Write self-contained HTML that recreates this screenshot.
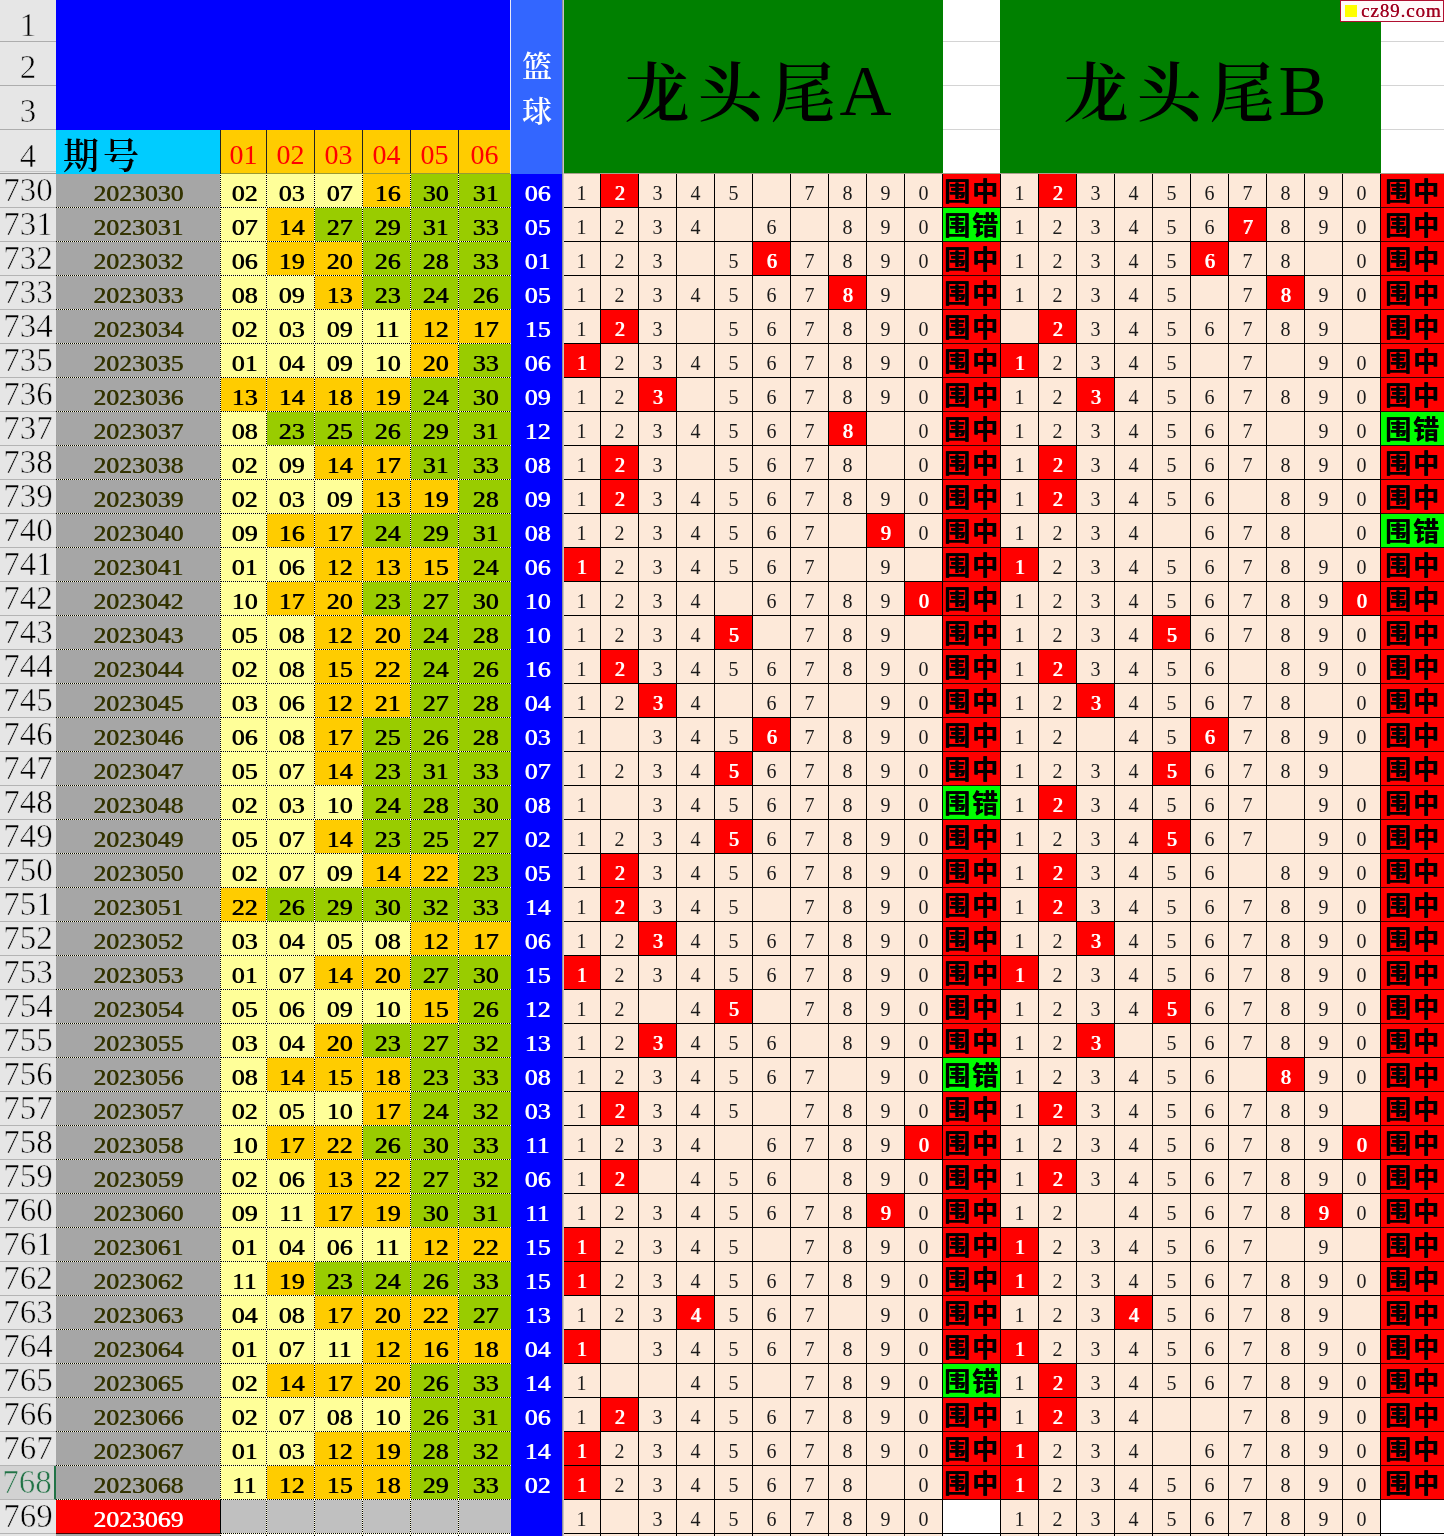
<!DOCTYPE html><html lang="zh"><head><meta charset="utf-8"><title>龙头尾</title><style>html,body{margin:0;padding:0}
html{overflow:hidden;width:1444px;height:1536px}
body{width:1444px;height:1536px;overflow:hidden;background:#fff;position:relative;font-family:"Liberation Serif","Noto Serif CJK SC",serif}
.r{position:absolute;left:0;width:1444px;height:34px;display:flex}
.r>div{box-sizing:border-box;height:34px;flex:none;text-align:center;line-height:34px;overflow:hidden;white-space:nowrap}
.h{width:56px;background:#e6e6e6;border-bottom:1px solid #b4b4b4;font-size:33px;color:#000;line-height:33px !important;-webkit-text-stroke:0.6px #e6e6e6}
.sel{background:#d2d2d2;color:#217346;border-right:2px solid #217346;-webkit-text-stroke:0.6px #d2d2d2}
.p,.n{background-image:repeating-linear-gradient(90deg,#000 0 1px,#ffd 1px 2px),repeating-linear-gradient(0deg,#000 0 1px,#ffd 1px 2px);background-size:100% 1px,1px 100%;background-position:0 100%,100% 0;background-repeat:no-repeat}
.p{width:165px;background-color:#a6a6a6;color:#333300}
.p b,.n b,.bl b{display:inline-block;font-size:23px;font-weight:normal;text-shadow:0.6px 0 0 currentColor;transform:scaleX(1.12);position:relative;top:3px}
.pl{background:#f00;color:#fff;border-right:1px solid #000;border-bottom:1px solid #400}
.n{width:48px;color:#000}
.n0{width:46px}
.n5{width:52px;background-size:100% 1px,0 0}
.y{background-color:#ffff99}
.o{background-color:#ffcc00}
.v{background-color:#99cc00}
.g{background-color:#c0c0c0}
.bl{width:52px;background:#0000ff;color:#fff}
.d{width:38px;background:#fde9d9;border-right:1px solid #000;border-bottom:1px solid #000;font-size:20px;color:#1a1a1a;line-height:38px !important}
.x{background:#f00;color:#fff;text-shadow:0.9px 0 0 #fff}
.w{font-family:"Liberation Sans","Noto Sans CJK SC",sans-serif;font-weight:bold;font-size:26px;color:#000;background:#f00;border-bottom:1px solid #300;line-height:37px !important;letter-spacing:2px;text-indent:1px;text-shadow:0.4px 0 0 #000}
.wa{width:58px;border-right:1px solid #000}
.wb{width:63px}
.wc{background:#00ff00;border-bottom:1px solid #020}
.we{background:#fff;border-bottom:1px solid #000}
.nw{background-color:#fff}
.abs{position:absolute;box-sizing:border-box}
.hh{left:0;width:56px;background:#e6e6e6;border-bottom:1px solid #adadad;font-size:33px;text-align:center;-webkit-text-stroke:0.6px #e6e6e6}
.gl{height:1px;background:#d4d4d4}
.hn{top:130px;height:44px;background:#ffcc00;border-right:1px solid #222;border-bottom:1px solid #993;color:#f00;font-size:28px;text-align:center;line-height:50px}
.tt{top:0;height:173px;background:#008000;color:#000;font-size:72px;text-align:center;line-height:182px;white-space:nowrap;padding-left:9px;overflow:hidden}
.tt span{font-size:65px;font-weight:600;letter-spacing:8px;position:relative;top:1px;margin-right:-4px}
</style></head><body><div class="abs hh" style="top:0;height:42px;line-height:50px">1</div>
<div class="abs hh" style="top:42px;height:44px;line-height:50px">2</div>
<div class="abs hh" style="top:86px;height:44px;line-height:50px">3</div>
<div class="abs hh" style="top:130px;height:44px;line-height:52px;border-bottom:1px solid #999">4</div>
<div class="abs" style="left:0;top:171px;width:56px;height:1px;background:#c6c6c6"></div>
<div class="abs" style="left:56px;top:0;width:454px;height:130px;background:#0000ff"></div>
<div class="abs" style="left:510px;top:0;width:1px;height:174px;background:#e8e8f8"></div>
<div class="abs" style="left:511px;top:0;width:52px;height:174px;background:#3366ff;color:#fff;font-size:30px;font-weight:600;text-align:center;line-height:45px;padding-top:44px">篮<br>球</div>
<div class="abs" style="left:562px;top:0;width:2px;height:1536px;background:linear-gradient(90deg,#8f8f9f 50%,#c9c4c0 50%);z-index:5"></div>
<div class="abs tt" style="left:564px;width:379px"><span>龙头尾</span>A</div>
<div class="abs tt" style="left:1000px;width:381px"><span>龙头尾</span>B</div>
<div class="abs gl" style="left:943px;width:57px;top:41px"></div>
<div class="abs gl" style="left:943px;width:57px;top:85px"></div>
<div class="abs gl" style="left:943px;width:57px;top:129px"></div>
<div class="abs gl" style="left:1381px;width:63px;top:41px"></div>
<div class="abs gl" style="left:1381px;width:63px;top:85px"></div>
<div class="abs gl" style="left:1381px;width:63px;top:129px"></div>
<div class="abs" style="left:563px;width:881px;top:173px;height:1px;background:#a9a08c"></div>
<div class="abs" style="left:56px;top:130px;width:164px;height:44px;background:#00ccff;font-size:36px;font-weight:600;letter-spacing:4px;line-height:54px;padding-left:7px;overflow:hidden;color:#000;white-space:nowrap">期号</div>
<div class="abs" style="left:220px;top:130px;width:1px;height:44px;background:#222"></div>
<div class="abs hn" style="left:221px;width:46px">01</div>
<div class="abs hn" style="left:267px;width:48px">02</div>
<div class="abs hn" style="left:315px;width:48px">03</div>
<div class="abs hn" style="left:363px;width:48px">04</div>
<div class="abs hn" style="left:411px;width:48px">05</div>
<div class="abs hn" style="left:459px;width:51px;border-right:0">06</div>
<div class="abs" style="left:1340px;top:0;width:104px;height:22px;background:#fffafa;border:1px solid #b01030;color:#a00020;text-shadow:0.3px 0 0 #a00020;font-size:19px;line-height:19px;letter-spacing:0.9px;padding-left:20px;white-space:nowrap">cz89.com<i style="position:absolute;left:4px;top:4px;width:12px;height:12px;background:#ff0"></i></div>
<div class="r" style="top:174px"><div class="h">730</div><div class="p"><b>2023030</b></div><div class="n n0 y"><b>02</b></div><div class="n n1 y"><b>03</b></div><div class="n n2 y"><b>07</b></div><div class="n n3 o"><b>16</b></div><div class="n n4 v"><b>30</b></div><div class="n n5 v"><b>31</b></div><div class="bl"><b>06</b></div><div class="d d1">1</div><div class="d x">2</div><div class="d">3</div><div class="d">4</div><div class="d">5</div><div class="d"></div><div class="d">7</div><div class="d">8</div><div class="d">9</div><div class="d">0</div><div class="w wa">围中</div><div class="d d1">1</div><div class="d x">2</div><div class="d">3</div><div class="d">4</div><div class="d">5</div><div class="d">6</div><div class="d">7</div><div class="d">8</div><div class="d">9</div><div class="d">0</div><div class="w wb">围中</div></div><div class="r" style="top:208px"><div class="h">731</div><div class="p"><b>2023031</b></div><div class="n n0 y"><b>07</b></div><div class="n n1 o"><b>14</b></div><div class="n n2 v"><b>27</b></div><div class="n n3 v"><b>29</b></div><div class="n n4 v"><b>31</b></div><div class="n n5 v"><b>33</b></div><div class="bl"><b>05</b></div><div class="d d1">1</div><div class="d">2</div><div class="d">3</div><div class="d">4</div><div class="d"></div><div class="d">6</div><div class="d"></div><div class="d">8</div><div class="d">9</div><div class="d">0</div><div class="w wa wc">围错</div><div class="d d1">1</div><div class="d">2</div><div class="d">3</div><div class="d">4</div><div class="d">5</div><div class="d">6</div><div class="d x">7</div><div class="d">8</div><div class="d">9</div><div class="d">0</div><div class="w wb">围中</div></div><div class="r" style="top:242px"><div class="h">732</div><div class="p"><b>2023032</b></div><div class="n n0 y"><b>06</b></div><div class="n n1 o"><b>19</b></div><div class="n n2 o"><b>20</b></div><div class="n n3 v"><b>26</b></div><div class="n n4 v"><b>28</b></div><div class="n n5 v"><b>33</b></div><div class="bl"><b>01</b></div><div class="d d1">1</div><div class="d">2</div><div class="d">3</div><div class="d"></div><div class="d">5</div><div class="d x">6</div><div class="d">7</div><div class="d">8</div><div class="d">9</div><div class="d">0</div><div class="w wa">围中</div><div class="d d1">1</div><div class="d">2</div><div class="d">3</div><div class="d">4</div><div class="d">5</div><div class="d x">6</div><div class="d">7</div><div class="d">8</div><div class="d"></div><div class="d">0</div><div class="w wb">围中</div></div><div class="r" style="top:276px"><div class="h">733</div><div class="p"><b>2023033</b></div><div class="n n0 y"><b>08</b></div><div class="n n1 y"><b>09</b></div><div class="n n2 o"><b>13</b></div><div class="n n3 v"><b>23</b></div><div class="n n4 v"><b>24</b></div><div class="n n5 v"><b>26</b></div><div class="bl"><b>05</b></div><div class="d d1">1</div><div class="d">2</div><div class="d">3</div><div class="d">4</div><div class="d">5</div><div class="d">6</div><div class="d">7</div><div class="d x">8</div><div class="d">9</div><div class="d"></div><div class="w wa">围中</div><div class="d d1">1</div><div class="d">2</div><div class="d">3</div><div class="d">4</div><div class="d">5</div><div class="d"></div><div class="d">7</div><div class="d x">8</div><div class="d">9</div><div class="d">0</div><div class="w wb">围中</div></div><div class="r" style="top:310px"><div class="h">734</div><div class="p"><b>2023034</b></div><div class="n n0 y"><b>02</b></div><div class="n n1 y"><b>03</b></div><div class="n n2 y"><b>09</b></div><div class="n n3 y"><b>11</b></div><div class="n n4 o"><b>12</b></div><div class="n n5 o"><b>17</b></div><div class="bl"><b>15</b></div><div class="d d1">1</div><div class="d x">2</div><div class="d">3</div><div class="d"></div><div class="d">5</div><div class="d">6</div><div class="d">7</div><div class="d">8</div><div class="d">9</div><div class="d">0</div><div class="w wa">围中</div><div class="d d1"></div><div class="d x">2</div><div class="d">3</div><div class="d">4</div><div class="d">5</div><div class="d">6</div><div class="d">7</div><div class="d">8</div><div class="d">9</div><div class="d"></div><div class="w wb">围中</div></div><div class="r" style="top:344px"><div class="h">735</div><div class="p"><b>2023035</b></div><div class="n n0 y"><b>01</b></div><div class="n n1 y"><b>04</b></div><div class="n n2 y"><b>09</b></div><div class="n n3 y"><b>10</b></div><div class="n n4 o"><b>20</b></div><div class="n n5 v"><b>33</b></div><div class="bl"><b>06</b></div><div class="d d1 x">1</div><div class="d">2</div><div class="d">3</div><div class="d">4</div><div class="d">5</div><div class="d">6</div><div class="d">7</div><div class="d">8</div><div class="d">9</div><div class="d">0</div><div class="w wa">围中</div><div class="d d1 x">1</div><div class="d">2</div><div class="d">3</div><div class="d">4</div><div class="d">5</div><div class="d"></div><div class="d">7</div><div class="d"></div><div class="d">9</div><div class="d">0</div><div class="w wb">围中</div></div><div class="r" style="top:378px"><div class="h">736</div><div class="p"><b>2023036</b></div><div class="n n0 o"><b>13</b></div><div class="n n1 o"><b>14</b></div><div class="n n2 o"><b>18</b></div><div class="n n3 o"><b>19</b></div><div class="n n4 v"><b>24</b></div><div class="n n5 v"><b>30</b></div><div class="bl"><b>09</b></div><div class="d d1">1</div><div class="d">2</div><div class="d x">3</div><div class="d"></div><div class="d">5</div><div class="d">6</div><div class="d">7</div><div class="d">8</div><div class="d">9</div><div class="d">0</div><div class="w wa">围中</div><div class="d d1">1</div><div class="d">2</div><div class="d x">3</div><div class="d">4</div><div class="d">5</div><div class="d">6</div><div class="d">7</div><div class="d">8</div><div class="d">9</div><div class="d">0</div><div class="w wb">围中</div></div><div class="r" style="top:412px"><div class="h">737</div><div class="p"><b>2023037</b></div><div class="n n0 y"><b>08</b></div><div class="n n1 v"><b>23</b></div><div class="n n2 v"><b>25</b></div><div class="n n3 v"><b>26</b></div><div class="n n4 v"><b>29</b></div><div class="n n5 v"><b>31</b></div><div class="bl"><b>12</b></div><div class="d d1">1</div><div class="d">2</div><div class="d">3</div><div class="d">4</div><div class="d">5</div><div class="d">6</div><div class="d">7</div><div class="d x">8</div><div class="d"></div><div class="d">0</div><div class="w wa">围中</div><div class="d d1">1</div><div class="d">2</div><div class="d">3</div><div class="d">4</div><div class="d">5</div><div class="d">6</div><div class="d">7</div><div class="d"></div><div class="d">9</div><div class="d">0</div><div class="w wb wc">围错</div></div><div class="r" style="top:446px"><div class="h">738</div><div class="p"><b>2023038</b></div><div class="n n0 y"><b>02</b></div><div class="n n1 y"><b>09</b></div><div class="n n2 o"><b>14</b></div><div class="n n3 o"><b>17</b></div><div class="n n4 v"><b>31</b></div><div class="n n5 v"><b>33</b></div><div class="bl"><b>08</b></div><div class="d d1">1</div><div class="d x">2</div><div class="d">3</div><div class="d"></div><div class="d">5</div><div class="d">6</div><div class="d">7</div><div class="d">8</div><div class="d"></div><div class="d">0</div><div class="w wa">围中</div><div class="d d1">1</div><div class="d x">2</div><div class="d">3</div><div class="d">4</div><div class="d">5</div><div class="d">6</div><div class="d">7</div><div class="d">8</div><div class="d">9</div><div class="d">0</div><div class="w wb">围中</div></div><div class="r" style="top:480px"><div class="h">739</div><div class="p"><b>2023039</b></div><div class="n n0 y"><b>02</b></div><div class="n n1 y"><b>03</b></div><div class="n n2 y"><b>09</b></div><div class="n n3 o"><b>13</b></div><div class="n n4 o"><b>19</b></div><div class="n n5 v"><b>28</b></div><div class="bl"><b>09</b></div><div class="d d1">1</div><div class="d x">2</div><div class="d">3</div><div class="d">4</div><div class="d">5</div><div class="d">6</div><div class="d">7</div><div class="d">8</div><div class="d">9</div><div class="d">0</div><div class="w wa">围中</div><div class="d d1">1</div><div class="d x">2</div><div class="d">3</div><div class="d">4</div><div class="d">5</div><div class="d">6</div><div class="d"></div><div class="d">8</div><div class="d">9</div><div class="d">0</div><div class="w wb">围中</div></div><div class="r" style="top:514px"><div class="h">740</div><div class="p"><b>2023040</b></div><div class="n n0 y"><b>09</b></div><div class="n n1 o"><b>16</b></div><div class="n n2 o"><b>17</b></div><div class="n n3 v"><b>24</b></div><div class="n n4 v"><b>29</b></div><div class="n n5 v"><b>31</b></div><div class="bl"><b>08</b></div><div class="d d1">1</div><div class="d">2</div><div class="d">3</div><div class="d">4</div><div class="d">5</div><div class="d">6</div><div class="d">7</div><div class="d"></div><div class="d x">9</div><div class="d">0</div><div class="w wa">围中</div><div class="d d1">1</div><div class="d">2</div><div class="d">3</div><div class="d">4</div><div class="d"></div><div class="d">6</div><div class="d">7</div><div class="d">8</div><div class="d"></div><div class="d">0</div><div class="w wb wc">围错</div></div><div class="r" style="top:548px"><div class="h">741</div><div class="p"><b>2023041</b></div><div class="n n0 y"><b>01</b></div><div class="n n1 y"><b>06</b></div><div class="n n2 o"><b>12</b></div><div class="n n3 o"><b>13</b></div><div class="n n4 o"><b>15</b></div><div class="n n5 v"><b>24</b></div><div class="bl"><b>06</b></div><div class="d d1 x">1</div><div class="d">2</div><div class="d">3</div><div class="d">4</div><div class="d">5</div><div class="d">6</div><div class="d">7</div><div class="d"></div><div class="d">9</div><div class="d"></div><div class="w wa">围中</div><div class="d d1 x">1</div><div class="d">2</div><div class="d">3</div><div class="d">4</div><div class="d">5</div><div class="d">6</div><div class="d">7</div><div class="d">8</div><div class="d">9</div><div class="d">0</div><div class="w wb">围中</div></div><div class="r" style="top:582px"><div class="h">742</div><div class="p"><b>2023042</b></div><div class="n n0 y"><b>10</b></div><div class="n n1 o"><b>17</b></div><div class="n n2 o"><b>20</b></div><div class="n n3 v"><b>23</b></div><div class="n n4 v"><b>27</b></div><div class="n n5 v"><b>30</b></div><div class="bl"><b>10</b></div><div class="d d1">1</div><div class="d">2</div><div class="d">3</div><div class="d">4</div><div class="d"></div><div class="d">6</div><div class="d">7</div><div class="d">8</div><div class="d">9</div><div class="d x">0</div><div class="w wa">围中</div><div class="d d1">1</div><div class="d">2</div><div class="d">3</div><div class="d">4</div><div class="d">5</div><div class="d">6</div><div class="d">7</div><div class="d">8</div><div class="d">9</div><div class="d x">0</div><div class="w wb">围中</div></div><div class="r" style="top:616px"><div class="h">743</div><div class="p"><b>2023043</b></div><div class="n n0 y"><b>05</b></div><div class="n n1 y"><b>08</b></div><div class="n n2 o"><b>12</b></div><div class="n n3 o"><b>20</b></div><div class="n n4 v"><b>24</b></div><div class="n n5 v"><b>28</b></div><div class="bl"><b>10</b></div><div class="d d1">1</div><div class="d">2</div><div class="d">3</div><div class="d">4</div><div class="d x">5</div><div class="d"></div><div class="d">7</div><div class="d">8</div><div class="d">9</div><div class="d"></div><div class="w wa">围中</div><div class="d d1">1</div><div class="d">2</div><div class="d">3</div><div class="d">4</div><div class="d x">5</div><div class="d">6</div><div class="d">7</div><div class="d">8</div><div class="d">9</div><div class="d">0</div><div class="w wb">围中</div></div><div class="r" style="top:650px"><div class="h">744</div><div class="p"><b>2023044</b></div><div class="n n0 y"><b>02</b></div><div class="n n1 y"><b>08</b></div><div class="n n2 o"><b>15</b></div><div class="n n3 o"><b>22</b></div><div class="n n4 v"><b>24</b></div><div class="n n5 v"><b>26</b></div><div class="bl"><b>16</b></div><div class="d d1">1</div><div class="d x">2</div><div class="d">3</div><div class="d">4</div><div class="d">5</div><div class="d">6</div><div class="d">7</div><div class="d">8</div><div class="d">9</div><div class="d">0</div><div class="w wa">围中</div><div class="d d1">1</div><div class="d x">2</div><div class="d">3</div><div class="d">4</div><div class="d">5</div><div class="d">6</div><div class="d"></div><div class="d">8</div><div class="d">9</div><div class="d">0</div><div class="w wb">围中</div></div><div class="r" style="top:684px"><div class="h">745</div><div class="p"><b>2023045</b></div><div class="n n0 y"><b>03</b></div><div class="n n1 y"><b>06</b></div><div class="n n2 o"><b>12</b></div><div class="n n3 o"><b>21</b></div><div class="n n4 v"><b>27</b></div><div class="n n5 v"><b>28</b></div><div class="bl"><b>04</b></div><div class="d d1">1</div><div class="d">2</div><div class="d x">3</div><div class="d">4</div><div class="d"></div><div class="d">6</div><div class="d">7</div><div class="d"></div><div class="d">9</div><div class="d">0</div><div class="w wa">围中</div><div class="d d1">1</div><div class="d">2</div><div class="d x">3</div><div class="d">4</div><div class="d">5</div><div class="d">6</div><div class="d">7</div><div class="d">8</div><div class="d"></div><div class="d">0</div><div class="w wb">围中</div></div><div class="r" style="top:718px"><div class="h">746</div><div class="p"><b>2023046</b></div><div class="n n0 y"><b>06</b></div><div class="n n1 y"><b>08</b></div><div class="n n2 o"><b>17</b></div><div class="n n3 v"><b>25</b></div><div class="n n4 v"><b>26</b></div><div class="n n5 v"><b>28</b></div><div class="bl"><b>03</b></div><div class="d d1">1</div><div class="d"></div><div class="d">3</div><div class="d">4</div><div class="d">5</div><div class="d x">6</div><div class="d">7</div><div class="d">8</div><div class="d">9</div><div class="d">0</div><div class="w wa">围中</div><div class="d d1">1</div><div class="d">2</div><div class="d"></div><div class="d">4</div><div class="d">5</div><div class="d x">6</div><div class="d">7</div><div class="d">8</div><div class="d">9</div><div class="d">0</div><div class="w wb">围中</div></div><div class="r" style="top:752px"><div class="h">747</div><div class="p"><b>2023047</b></div><div class="n n0 y"><b>05</b></div><div class="n n1 y"><b>07</b></div><div class="n n2 o"><b>14</b></div><div class="n n3 v"><b>23</b></div><div class="n n4 v"><b>31</b></div><div class="n n5 v"><b>33</b></div><div class="bl"><b>07</b></div><div class="d d1">1</div><div class="d">2</div><div class="d">3</div><div class="d">4</div><div class="d x">5</div><div class="d">6</div><div class="d">7</div><div class="d">8</div><div class="d">9</div><div class="d">0</div><div class="w wa">围中</div><div class="d d1">1</div><div class="d">2</div><div class="d">3</div><div class="d">4</div><div class="d x">5</div><div class="d">6</div><div class="d">7</div><div class="d">8</div><div class="d">9</div><div class="d"></div><div class="w wb">围中</div></div><div class="r" style="top:786px"><div class="h">748</div><div class="p"><b>2023048</b></div><div class="n n0 y"><b>02</b></div><div class="n n1 y"><b>03</b></div><div class="n n2 y"><b>10</b></div><div class="n n3 v"><b>24</b></div><div class="n n4 v"><b>28</b></div><div class="n n5 v"><b>30</b></div><div class="bl"><b>08</b></div><div class="d d1">1</div><div class="d"></div><div class="d">3</div><div class="d">4</div><div class="d">5</div><div class="d">6</div><div class="d">7</div><div class="d">8</div><div class="d">9</div><div class="d">0</div><div class="w wa wc">围错</div><div class="d d1">1</div><div class="d x">2</div><div class="d">3</div><div class="d">4</div><div class="d">5</div><div class="d">6</div><div class="d">7</div><div class="d"></div><div class="d">9</div><div class="d">0</div><div class="w wb">围中</div></div><div class="r" style="top:820px"><div class="h">749</div><div class="p"><b>2023049</b></div><div class="n n0 y"><b>05</b></div><div class="n n1 y"><b>07</b></div><div class="n n2 o"><b>14</b></div><div class="n n3 v"><b>23</b></div><div class="n n4 v"><b>25</b></div><div class="n n5 v"><b>27</b></div><div class="bl"><b>02</b></div><div class="d d1">1</div><div class="d">2</div><div class="d">3</div><div class="d">4</div><div class="d x">5</div><div class="d">6</div><div class="d">7</div><div class="d">8</div><div class="d">9</div><div class="d">0</div><div class="w wa">围中</div><div class="d d1">1</div><div class="d">2</div><div class="d">3</div><div class="d">4</div><div class="d x">5</div><div class="d">6</div><div class="d">7</div><div class="d"></div><div class="d">9</div><div class="d">0</div><div class="w wb">围中</div></div><div class="r" style="top:854px"><div class="h">750</div><div class="p"><b>2023050</b></div><div class="n n0 y"><b>02</b></div><div class="n n1 y"><b>07</b></div><div class="n n2 y"><b>09</b></div><div class="n n3 o"><b>14</b></div><div class="n n4 o"><b>22</b></div><div class="n n5 v"><b>23</b></div><div class="bl"><b>05</b></div><div class="d d1">1</div><div class="d x">2</div><div class="d">3</div><div class="d">4</div><div class="d">5</div><div class="d">6</div><div class="d">7</div><div class="d">8</div><div class="d">9</div><div class="d">0</div><div class="w wa">围中</div><div class="d d1">1</div><div class="d x">2</div><div class="d">3</div><div class="d">4</div><div class="d">5</div><div class="d">6</div><div class="d"></div><div class="d">8</div><div class="d">9</div><div class="d">0</div><div class="w wb">围中</div></div><div class="r" style="top:888px"><div class="h">751</div><div class="p"><b>2023051</b></div><div class="n n0 o"><b>22</b></div><div class="n n1 v"><b>26</b></div><div class="n n2 v"><b>29</b></div><div class="n n3 v"><b>30</b></div><div class="n n4 v"><b>32</b></div><div class="n n5 v"><b>33</b></div><div class="bl"><b>14</b></div><div class="d d1">1</div><div class="d x">2</div><div class="d">3</div><div class="d">4</div><div class="d">5</div><div class="d"></div><div class="d">7</div><div class="d">8</div><div class="d">9</div><div class="d">0</div><div class="w wa">围中</div><div class="d d1">1</div><div class="d x">2</div><div class="d">3</div><div class="d">4</div><div class="d">5</div><div class="d">6</div><div class="d">7</div><div class="d">8</div><div class="d">9</div><div class="d">0</div><div class="w wb">围中</div></div><div class="r" style="top:922px"><div class="h">752</div><div class="p"><b>2023052</b></div><div class="n n0 y"><b>03</b></div><div class="n n1 y"><b>04</b></div><div class="n n2 y"><b>05</b></div><div class="n n3 y"><b>08</b></div><div class="n n4 o"><b>12</b></div><div class="n n5 o"><b>17</b></div><div class="bl"><b>06</b></div><div class="d d1">1</div><div class="d">2</div><div class="d x">3</div><div class="d">4</div><div class="d">5</div><div class="d">6</div><div class="d">7</div><div class="d">8</div><div class="d">9</div><div class="d">0</div><div class="w wa">围中</div><div class="d d1">1</div><div class="d">2</div><div class="d x">3</div><div class="d">4</div><div class="d">5</div><div class="d">6</div><div class="d">7</div><div class="d">8</div><div class="d">9</div><div class="d">0</div><div class="w wb">围中</div></div><div class="r" style="top:956px"><div class="h">753</div><div class="p"><b>2023053</b></div><div class="n n0 y"><b>01</b></div><div class="n n1 y"><b>07</b></div><div class="n n2 o"><b>14</b></div><div class="n n3 o"><b>20</b></div><div class="n n4 v"><b>27</b></div><div class="n n5 v"><b>30</b></div><div class="bl"><b>15</b></div><div class="d d1 x">1</div><div class="d">2</div><div class="d">3</div><div class="d">4</div><div class="d">5</div><div class="d">6</div><div class="d">7</div><div class="d">8</div><div class="d">9</div><div class="d">0</div><div class="w wa">围中</div><div class="d d1 x">1</div><div class="d">2</div><div class="d">3</div><div class="d">4</div><div class="d">5</div><div class="d">6</div><div class="d">7</div><div class="d">8</div><div class="d">9</div><div class="d">0</div><div class="w wb">围中</div></div><div class="r" style="top:990px"><div class="h">754</div><div class="p"><b>2023054</b></div><div class="n n0 y"><b>05</b></div><div class="n n1 y"><b>06</b></div><div class="n n2 y"><b>09</b></div><div class="n n3 y"><b>10</b></div><div class="n n4 o"><b>15</b></div><div class="n n5 v"><b>26</b></div><div class="bl"><b>12</b></div><div class="d d1">1</div><div class="d">2</div><div class="d"></div><div class="d">4</div><div class="d x">5</div><div class="d"></div><div class="d">7</div><div class="d">8</div><div class="d">9</div><div class="d">0</div><div class="w wa">围中</div><div class="d d1">1</div><div class="d">2</div><div class="d">3</div><div class="d">4</div><div class="d x">5</div><div class="d">6</div><div class="d">7</div><div class="d">8</div><div class="d">9</div><div class="d">0</div><div class="w wb">围中</div></div><div class="r" style="top:1024px"><div class="h">755</div><div class="p"><b>2023055</b></div><div class="n n0 y"><b>03</b></div><div class="n n1 y"><b>04</b></div><div class="n n2 o"><b>20</b></div><div class="n n3 v"><b>23</b></div><div class="n n4 v"><b>27</b></div><div class="n n5 v"><b>32</b></div><div class="bl"><b>13</b></div><div class="d d1">1</div><div class="d">2</div><div class="d x">3</div><div class="d">4</div><div class="d">5</div><div class="d">6</div><div class="d"></div><div class="d">8</div><div class="d">9</div><div class="d">0</div><div class="w wa">围中</div><div class="d d1">1</div><div class="d">2</div><div class="d x">3</div><div class="d"></div><div class="d">5</div><div class="d">6</div><div class="d">7</div><div class="d">8</div><div class="d">9</div><div class="d">0</div><div class="w wb">围中</div></div><div class="r" style="top:1058px"><div class="h">756</div><div class="p"><b>2023056</b></div><div class="n n0 y"><b>08</b></div><div class="n n1 o"><b>14</b></div><div class="n n2 o"><b>15</b></div><div class="n n3 o"><b>18</b></div><div class="n n4 v"><b>23</b></div><div class="n n5 v"><b>33</b></div><div class="bl"><b>08</b></div><div class="d d1">1</div><div class="d">2</div><div class="d">3</div><div class="d">4</div><div class="d">5</div><div class="d">6</div><div class="d">7</div><div class="d"></div><div class="d">9</div><div class="d">0</div><div class="w wa wc">围错</div><div class="d d1">1</div><div class="d">2</div><div class="d">3</div><div class="d">4</div><div class="d">5</div><div class="d">6</div><div class="d"></div><div class="d x">8</div><div class="d">9</div><div class="d">0</div><div class="w wb">围中</div></div><div class="r" style="top:1092px"><div class="h">757</div><div class="p"><b>2023057</b></div><div class="n n0 y"><b>02</b></div><div class="n n1 y"><b>05</b></div><div class="n n2 y"><b>10</b></div><div class="n n3 o"><b>17</b></div><div class="n n4 v"><b>24</b></div><div class="n n5 v"><b>32</b></div><div class="bl"><b>03</b></div><div class="d d1">1</div><div class="d x">2</div><div class="d">3</div><div class="d">4</div><div class="d">5</div><div class="d"></div><div class="d">7</div><div class="d">8</div><div class="d">9</div><div class="d">0</div><div class="w wa">围中</div><div class="d d1">1</div><div class="d x">2</div><div class="d">3</div><div class="d">4</div><div class="d">5</div><div class="d">6</div><div class="d">7</div><div class="d">8</div><div class="d">9</div><div class="d"></div><div class="w wb">围中</div></div><div class="r" style="top:1126px"><div class="h">758</div><div class="p"><b>2023058</b></div><div class="n n0 y"><b>10</b></div><div class="n n1 o"><b>17</b></div><div class="n n2 o"><b>22</b></div><div class="n n3 v"><b>26</b></div><div class="n n4 v"><b>30</b></div><div class="n n5 v"><b>33</b></div><div class="bl"><b>11</b></div><div class="d d1">1</div><div class="d">2</div><div class="d">3</div><div class="d">4</div><div class="d"></div><div class="d">6</div><div class="d">7</div><div class="d">8</div><div class="d">9</div><div class="d x">0</div><div class="w wa">围中</div><div class="d d1">1</div><div class="d">2</div><div class="d">3</div><div class="d">4</div><div class="d">5</div><div class="d">6</div><div class="d">7</div><div class="d">8</div><div class="d">9</div><div class="d x">0</div><div class="w wb">围中</div></div><div class="r" style="top:1160px"><div class="h">759</div><div class="p"><b>2023059</b></div><div class="n n0 y"><b>02</b></div><div class="n n1 y"><b>06</b></div><div class="n n2 o"><b>13</b></div><div class="n n3 o"><b>22</b></div><div class="n n4 v"><b>27</b></div><div class="n n5 v"><b>32</b></div><div class="bl"><b>06</b></div><div class="d d1">1</div><div class="d x">2</div><div class="d"></div><div class="d">4</div><div class="d">5</div><div class="d">6</div><div class="d"></div><div class="d">8</div><div class="d">9</div><div class="d">0</div><div class="w wa">围中</div><div class="d d1">1</div><div class="d x">2</div><div class="d">3</div><div class="d">4</div><div class="d">5</div><div class="d">6</div><div class="d">7</div><div class="d">8</div><div class="d">9</div><div class="d">0</div><div class="w wb">围中</div></div><div class="r" style="top:1194px"><div class="h">760</div><div class="p"><b>2023060</b></div><div class="n n0 y"><b>09</b></div><div class="n n1 y"><b>11</b></div><div class="n n2 o"><b>17</b></div><div class="n n3 o"><b>19</b></div><div class="n n4 v"><b>30</b></div><div class="n n5 v"><b>31</b></div><div class="bl"><b>11</b></div><div class="d d1">1</div><div class="d">2</div><div class="d">3</div><div class="d">4</div><div class="d">5</div><div class="d">6</div><div class="d">7</div><div class="d">8</div><div class="d x">9</div><div class="d">0</div><div class="w wa">围中</div><div class="d d1">1</div><div class="d">2</div><div class="d"></div><div class="d">4</div><div class="d">5</div><div class="d">6</div><div class="d">7</div><div class="d">8</div><div class="d x">9</div><div class="d">0</div><div class="w wb">围中</div></div><div class="r" style="top:1228px"><div class="h">761</div><div class="p"><b>2023061</b></div><div class="n n0 y"><b>01</b></div><div class="n n1 y"><b>04</b></div><div class="n n2 y"><b>06</b></div><div class="n n3 y"><b>11</b></div><div class="n n4 o"><b>12</b></div><div class="n n5 o"><b>22</b></div><div class="bl"><b>15</b></div><div class="d d1 x">1</div><div class="d">2</div><div class="d">3</div><div class="d">4</div><div class="d">5</div><div class="d"></div><div class="d">7</div><div class="d">8</div><div class="d">9</div><div class="d">0</div><div class="w wa">围中</div><div class="d d1 x">1</div><div class="d">2</div><div class="d">3</div><div class="d">4</div><div class="d">5</div><div class="d">6</div><div class="d">7</div><div class="d"></div><div class="d">9</div><div class="d"></div><div class="w wb">围中</div></div><div class="r" style="top:1262px"><div class="h">762</div><div class="p"><b>2023062</b></div><div class="n n0 y"><b>11</b></div><div class="n n1 o"><b>19</b></div><div class="n n2 v"><b>23</b></div><div class="n n3 v"><b>24</b></div><div class="n n4 v"><b>26</b></div><div class="n n5 v"><b>33</b></div><div class="bl"><b>15</b></div><div class="d d1 x">1</div><div class="d">2</div><div class="d">3</div><div class="d">4</div><div class="d">5</div><div class="d">6</div><div class="d">7</div><div class="d">8</div><div class="d">9</div><div class="d">0</div><div class="w wa">围中</div><div class="d d1 x">1</div><div class="d">2</div><div class="d">3</div><div class="d">4</div><div class="d">5</div><div class="d">6</div><div class="d">7</div><div class="d">8</div><div class="d">9</div><div class="d">0</div><div class="w wb">围中</div></div><div class="r" style="top:1296px"><div class="h">763</div><div class="p"><b>2023063</b></div><div class="n n0 y"><b>04</b></div><div class="n n1 y"><b>08</b></div><div class="n n2 o"><b>17</b></div><div class="n n3 o"><b>20</b></div><div class="n n4 o"><b>22</b></div><div class="n n5 v"><b>27</b></div><div class="bl"><b>13</b></div><div class="d d1">1</div><div class="d">2</div><div class="d">3</div><div class="d x">4</div><div class="d">5</div><div class="d">6</div><div class="d">7</div><div class="d"></div><div class="d">9</div><div class="d">0</div><div class="w wa">围中</div><div class="d d1">1</div><div class="d">2</div><div class="d">3</div><div class="d x">4</div><div class="d">5</div><div class="d">6</div><div class="d">7</div><div class="d">8</div><div class="d">9</div><div class="d"></div><div class="w wb">围中</div></div><div class="r" style="top:1330px"><div class="h">764</div><div class="p"><b>2023064</b></div><div class="n n0 y"><b>01</b></div><div class="n n1 y"><b>07</b></div><div class="n n2 y"><b>11</b></div><div class="n n3 o"><b>12</b></div><div class="n n4 o"><b>16</b></div><div class="n n5 o"><b>18</b></div><div class="bl"><b>04</b></div><div class="d d1 x">1</div><div class="d"></div><div class="d">3</div><div class="d">4</div><div class="d">5</div><div class="d">6</div><div class="d">7</div><div class="d">8</div><div class="d">9</div><div class="d">0</div><div class="w wa">围中</div><div class="d d1 x">1</div><div class="d">2</div><div class="d">3</div><div class="d">4</div><div class="d">5</div><div class="d">6</div><div class="d">7</div><div class="d">8</div><div class="d">9</div><div class="d">0</div><div class="w wb">围中</div></div><div class="r" style="top:1364px"><div class="h">765</div><div class="p"><b>2023065</b></div><div class="n n0 y"><b>02</b></div><div class="n n1 o"><b>14</b></div><div class="n n2 o"><b>17</b></div><div class="n n3 o"><b>20</b></div><div class="n n4 v"><b>26</b></div><div class="n n5 v"><b>33</b></div><div class="bl"><b>14</b></div><div class="d d1">1</div><div class="d"></div><div class="d"></div><div class="d">4</div><div class="d">5</div><div class="d"></div><div class="d">7</div><div class="d">8</div><div class="d">9</div><div class="d">0</div><div class="w wa wc">围错</div><div class="d d1">1</div><div class="d x">2</div><div class="d">3</div><div class="d">4</div><div class="d">5</div><div class="d">6</div><div class="d">7</div><div class="d">8</div><div class="d">9</div><div class="d">0</div><div class="w wb">围中</div></div><div class="r" style="top:1398px"><div class="h">766</div><div class="p"><b>2023066</b></div><div class="n n0 y"><b>02</b></div><div class="n n1 y"><b>07</b></div><div class="n n2 y"><b>08</b></div><div class="n n3 y"><b>10</b></div><div class="n n4 v"><b>26</b></div><div class="n n5 v"><b>31</b></div><div class="bl"><b>06</b></div><div class="d d1">1</div><div class="d x">2</div><div class="d">3</div><div class="d">4</div><div class="d">5</div><div class="d">6</div><div class="d">7</div><div class="d">8</div><div class="d">9</div><div class="d">0</div><div class="w wa">围中</div><div class="d d1">1</div><div class="d x">2</div><div class="d">3</div><div class="d">4</div><div class="d"></div><div class="d"></div><div class="d">7</div><div class="d">8</div><div class="d">9</div><div class="d">0</div><div class="w wb">围中</div></div><div class="r" style="top:1432px"><div class="h">767</div><div class="p"><b>2023067</b></div><div class="n n0 y"><b>01</b></div><div class="n n1 y"><b>03</b></div><div class="n n2 o"><b>12</b></div><div class="n n3 o"><b>19</b></div><div class="n n4 v"><b>28</b></div><div class="n n5 v"><b>32</b></div><div class="bl"><b>14</b></div><div class="d d1 x">1</div><div class="d">2</div><div class="d">3</div><div class="d">4</div><div class="d">5</div><div class="d">6</div><div class="d">7</div><div class="d">8</div><div class="d">9</div><div class="d">0</div><div class="w wa">围中</div><div class="d d1 x">1</div><div class="d">2</div><div class="d">3</div><div class="d">4</div><div class="d"></div><div class="d">6</div><div class="d">7</div><div class="d">8</div><div class="d">9</div><div class="d">0</div><div class="w wb">围中</div></div><div class="r" style="top:1466px"><div class="h sel">768</div><div class="p"><b>2023068</b></div><div class="n n0 y"><b>11</b></div><div class="n n1 o"><b>12</b></div><div class="n n2 o"><b>15</b></div><div class="n n3 o"><b>18</b></div><div class="n n4 v"><b>29</b></div><div class="n n5 v"><b>33</b></div><div class="bl"><b>02</b></div><div class="d d1 x">1</div><div class="d">2</div><div class="d">3</div><div class="d">4</div><div class="d">5</div><div class="d">6</div><div class="d">7</div><div class="d">8</div><div class="d"></div><div class="d">0</div><div class="w wa">围中</div><div class="d d1 x">1</div><div class="d">2</div><div class="d">3</div><div class="d">4</div><div class="d">5</div><div class="d">6</div><div class="d">7</div><div class="d">8</div><div class="d">9</div><div class="d">0</div><div class="w wb">围中</div></div><div class="r" style="top:1500px"><div class="h">769</div><div class="p pl"><b>2023069</b></div><div class="n n0 g"></div><div class="n n1 g"></div><div class="n n2 g"></div><div class="n n3 g"></div><div class="n n4 g"></div><div class="n n5 g"></div><div class="bl"></div><div class="d d1">1</div><div class="d"></div><div class="d">3</div><div class="d">4</div><div class="d">5</div><div class="d">6</div><div class="d">7</div><div class="d">8</div><div class="d">9</div><div class="d">0</div><div class="w wa we"></div><div class="d d1">1</div><div class="d">2</div><div class="d">3</div><div class="d">4</div><div class="d">5</div><div class="d">6</div><div class="d">7</div><div class="d">8</div><div class="d">9</div><div class="d">0</div><div class="w wb we"></div></div><div class="r" style="top:1534px;height:2px;overflow:hidden"><div class="h"></div><div class="p"></div><div class="n n0 nw"></div><div class="n n1 nw"></div><div class="n n2 nw"></div><div class="n n3 nw"></div><div class="n n4 nw"></div><div class="n n5 nw"></div><div class="bl"></div><div class="d"></div><div class="d"></div><div class="d"></div><div class="d"></div><div class="d"></div><div class="d"></div><div class="d"></div><div class="d"></div><div class="d"></div><div class="d"></div><div class="w wa we"></div><div class="d"></div><div class="d"></div><div class="d"></div><div class="d"></div><div class="d"></div><div class="d"></div><div class="d"></div><div class="d"></div><div class="d"></div><div class="d"></div><div class="w wb we"></div></div></body></html>
